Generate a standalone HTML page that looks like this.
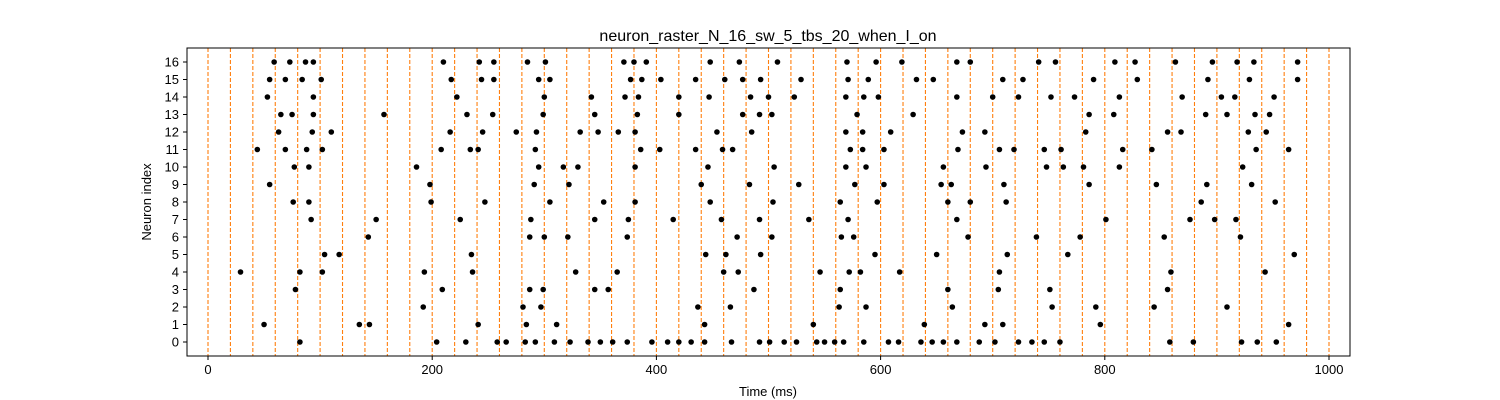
<!DOCTYPE html>
<html><head><meta charset="utf-8"><style>
body{margin:0;background:#fff;}
svg{display:block;font-family:"Liberation Sans","DejaVu Sans",sans-serif;}
</style></head><body>
<svg id="chart" width="1500" height="400" xmlns="http://www.w3.org/2000/svg">
<rect width="1500" height="400" fill="#fff"/>
<text x="768" y="41" font-size="16" text-anchor="middle">neuron_raster_N_16_sw_5_tbs_20_when_I_on</text>
<text x="768" y="396" font-size="13" text-anchor="middle">Time (ms)</text>
<text x="151" y="202" font-size="13" text-anchor="middle" transform="rotate(-90 151 202)">Neuron index</text>
<g id="stim"></g><g id="dots"></g><g id="axes"></g>
</svg>
<script>
const xTicks=[0,200,400,600,800,1000];
const yTicks=[0,1,2,3,4,5,6,7,8,9,10,11,12,13,14,15,16];
const stimTimes=[0,20,40,60,80,100,120,140,160,180,200,220,240,260,280,300,320,340,360,380,400,420,440,460,480,500,520,540,560,580,600,620,640,660,680,700,720,740,760,780,800,820,840,860,880,900,920,940,960,980,1000];
const n0=[82,204,230,258,266,283,292,309,323,339,350,361,374,396,410,420,431,443,467,492,501,514,525,543,550,559,567,585,607,616,636,646,656,668,688,702,723,735,746,760,858,879,922,936,953];
const n1=[50,135,144,241,284,311,443,540,639,693,709,796,964];
const n2=[192,281,297,437,466,563,587,664,753,792,844,909];
const n3=[78,209,287,299,345,357,487,564,660,705,751,856];
const n4=[29,82,102,193,236,328,365,460,473,546,572,582,617,706,859,943];
const n5=[104,117,235,444,462,493,595,650,713,767,969];
const n6=[143,287,300,321,374,472,503,565,576,678,739,778,853,921];
const n7=[92,150,225,288,345,375,415,458,492,536,571,668,801,876,898,917];
const n8=[76,90,199,247,305,353,381,448,504,564,597,660,680,712,886,952];
const n9=[55,198,291,322,440,483,527,577,603,654,663,710,786,846,891,931];
const n10=[77,90,186,295,317,330,381,446,505,569,587,656,694,748,763,781,813,923];
const n11=[44,69,88,102,208,234,241,292,386,403,435,459,468,573,584,603,669,706,719,746,761,816,842,935,964];
const n12=[63,93,110,216,245,275,293,332,348,366,381,454,485,569,584,609,673,693,783,856,868,928,944];
const n13=[65,75,94,157,231,254,299,345,383,420,477,492,503,579,629,786,808,890,909,934,947];
const n14=[53,94,222,300,342,372,384,420,447,484,500,523,569,585,598,668,700,723,752,773,813,869,904,916,951];
const n15=[55,69,84,101,217,244,255,295,305,377,387,404,435,461,477,493,529,571,589,632,647,709,727,790,829,892,929,972];
const n16=[59,73,87,94,210,242,255,285,301,371,380,391,448,474,508,570,596,619,668,680,741,756,809,827,863,896,918,933,972];
const spikes=[n0,n1,n2,n3,n4,n5,n6,n7,n8,n9,n10,n11,n12,n13,n14,n15,n16];

const L=187,R=1350,T=48,B=356;
const xs=t=>208+t*1.121;
const ys=v=>342-v*17.5;
const NS="http://www.w3.org/2000/svg";
function mk(tag,attrs,parent){const e=document.createElementNS(NS,tag);for(const k in attrs)e.setAttribute(k,attrs[k]);parent.appendChild(e);return e;}
const stim=document.getElementById('stim'),dots=document.getElementById('dots'),axes=document.getElementById('axes');
stimTimes.forEach(t=>{
  const l=mk('line',{x1:xs(t),x2:xs(t),y1:T,y2:B,stroke:'#ff7f0e','stroke-width':1.1,'stroke-dasharray':'4,2'},stim);
  
  
});
spikes.forEach((arr,i)=>arr.forEach(t=>{
  const c=mk('circle',{cx:xs(t),cy:ys(i),r:2.8,fill:'#000'},dots);
  
  
}));
const frame=mk('rect',{x:L,y:T,width:R-L,height:B-T,fill:'none',stroke:'#000','stroke-width':1},axes);


xTicks.forEach(v=>{
  mk('line',{x1:xs(v),x2:xs(v),y1:B,y2:B+4,stroke:'#000'},axes);
  const t=mk('text',{x:xs(v),y:B+18,'font-size':13,'text-anchor':'middle'},axes);
  t.textContent=v;
  
  
});
yTicks.forEach(v=>{
  mk('line',{x1:L-4,x2:L,y1:ys(v),y2:ys(v),stroke:'#000'},axes);
  const t=mk('text',{x:L-8,y:ys(v)+4.5,'font-size':13,'text-anchor':'end'},axes);
  t.textContent=v;
  
  
});
</script>
</body></html>
